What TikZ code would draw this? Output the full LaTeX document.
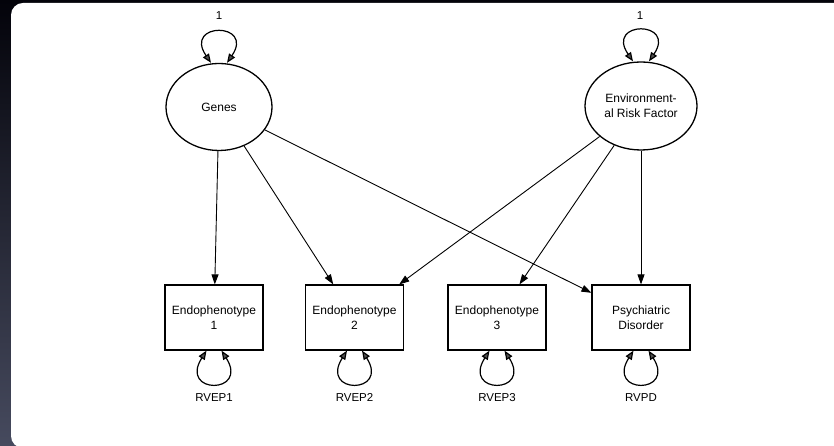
\documentclass[tikz,border=0pt]{standalone}
\usepackage{fontspec}
\setmainfont{Liberation Sans}
\usetikzlibrary{shapes.geometric,arrows.meta,calc}
\definecolor{bgtop}{HTML}{03030A}
\definecolor{bgmid}{HTML}{1B1D38}
\definecolor{bgbot}{HTML}{464A5E}
\definecolor{tipgray}{HTML}{505050}
\begin{document}
\begin{tikzpicture}[x=1pt,y=1pt,
  txt/.style={font=\fontsize{12}{15}\selectfont},
  latent/.style={ellipse,draw,line width=1.3pt,align=center,inner sep=0pt,txt},
  manifest/.style={rectangle,draw,line width=1.2pt,minimum width=98pt,minimum height=65pt,inner sep=0pt,align=center,txt},
  regpath/.style={line width=0.9pt,-{Triangle[length=10pt,width=7pt]}},
  varloop/.style={line width=1.2pt,
    {Triangle[length=9pt,width=7pt,fill=tipgray]}-{Triangle[length=9pt,width=7pt,fill=tipgray]}},
  lbl/.style={font=\fontsize{11.5}{14}\selectfont}]
\useasboundingbox (0,0) rectangle (834,446);
\clip (0,0) rectangle (834,446);
% window backdrop and white canvas
\shade[top color=bgtop, middle color=bgmid, bottom color=bgbot] (0,0) rectangle (834,446);
\fill[white, rounded corners=12pt] (11,-2) rectangle (850,443);

% latent variables
\node[latent, minimum width=106pt, minimum height=87pt] (genes) at (219,339) {Genes};
\node[latent, minimum width=112pt, minimum height=88pt] (env) at (641,340) {Environment-\\al Risk Factor};

% observed variables
\node[manifest] (ep1) at (214,128.5) {Endophenotype\\1};
\node[manifest] (ep2) at (354.5,128.5) {Endophenotype\\2};
\node[manifest] (ep3) at (497,128.5) {Endophenotype\\3};
\node[manifest] (pd) at (641,128.5) {Psychiatric\\Disorder};

% regression paths
\draw[regpath] (genes) -- (ep1);
\draw[regpath] (genes) -- (ep2);
\draw[regpath] (genes) -- (pd);
\draw[regpath] (env) -- (ep2);
\draw[regpath] (env) -- (ep3);
\draw[regpath] (env) -- (pd);

% variance loops on the latents
\draw[varloop] ($(genes.north)+(-8,0)$) .. controls +(-28,41) and +(28,41) .. ($(genes.north)+(8,0)$);
\draw[varloop] ($(env.north)+(-8,0)$) .. controls +(-28,41) and +(28,41) .. ($(env.north)+(8,0)$);
\node[lbl] (vg) at (219,430) {1};
\node[lbl] (ve) at (640,430) {1};

% residual loops on the observed variables
\foreach \n/\t in {ep1/RVEP1, ep2/RVEP2, ep3/RVEP3, pd/RVPD}{
  \draw[varloop] ($(\n.south)+(-7.5,0)$) .. controls +(-28,-44) and +(28,-44) .. ($(\n.south)+(7.5,0)$);
  \node[lbl] (r\n) at ($(\n.south)+(0,-46.5)$) {\t};
}
\end{tikzpicture}
\end{document}
